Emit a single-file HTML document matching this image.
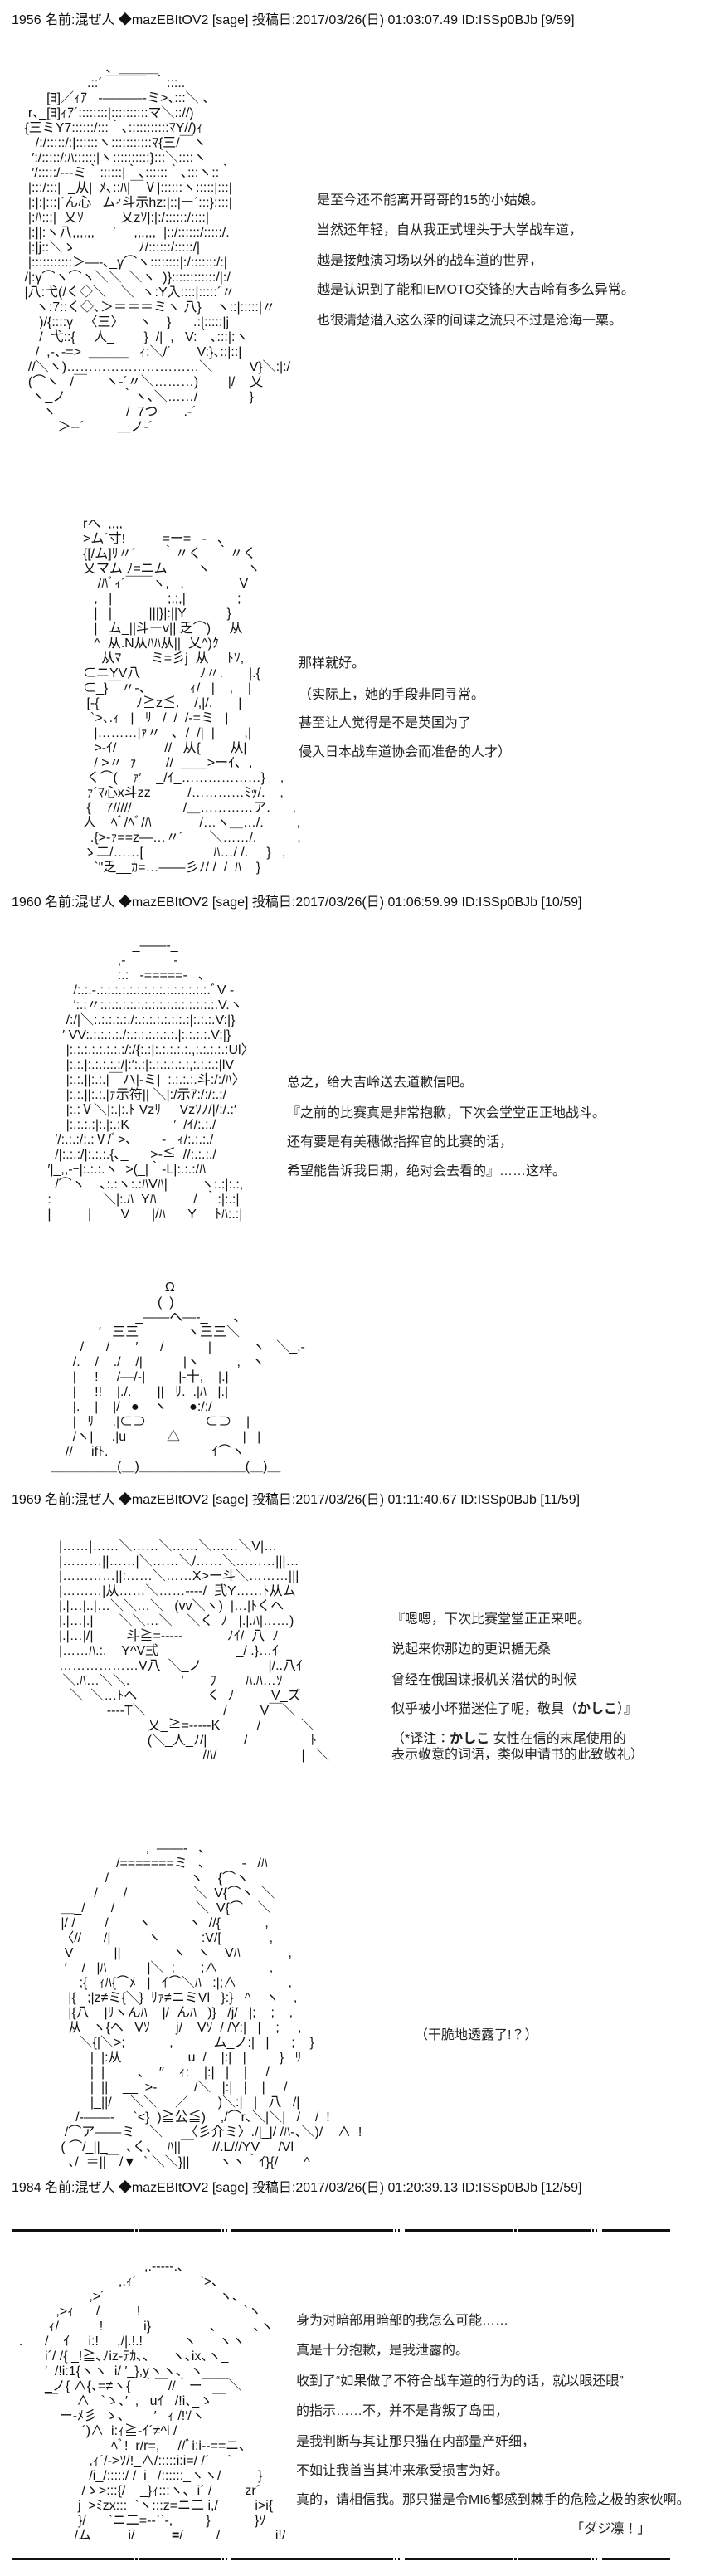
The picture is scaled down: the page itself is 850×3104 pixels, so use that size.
<!DOCTYPE html>
<html><head><meta charset="utf-8">
<style>
html,body{margin:0;padding:0;background:#fff;}
body{width:850px;height:3104px;position:relative;overflow:hidden;font-family:"Liberation Sans","Noto Sans CJK JP",sans-serif;color:#111;}
.h{position:absolute;left:14px;font-size:16px;line-height:18px;white-space:pre;}
.t{position:absolute;font-size:16px;line-height:18px;white-space:pre;color:#222;}
.aa{position:absolute;font-size:16px;line-height:18px;white-space:pre;color:#111;}
.rule{position:absolute;left:14px;width:794px;height:3px;background:#111;}
.gap{position:absolute;top:0;height:3px;background:#fff;}
b{font-weight:bold;}
</style></head><body>

<div class="h" style="top:16px">1956 名前:混ぜ人 ◆mazEBItOV2 [sage] 投稿日:2017/03/26(日) 01:03:07.49 ID:ISSp0BJb [9/59]</div>

<div class="aa" style="left:25px;top:74px">                       、＿＿＿
                  .::´ ￣￣￣  ｀:::..
       [ﾖ]／ｨｱ   -―――-ミ>､:::＼ ､
  r､_[ﾖ]ｨｱ´::::::::|::::::::::マ＼:://)
 {三ミY7::::::/:::｀､:::::::::::ﾏY//)ｨ
    /:/:::::/:|::::::ヽ:::::::::::ﾏ{三/￣ヽ
   ′:/:::::/:ﾊ::::::|ヽ::::::::::}:::＼::::ヽ
   ′/:::::/---ミ｀::::::|｀､::::::｀､:::ヽ::｀
  |:::/:::|  _从|  ﾒ､::ﾊ|￣Ⅴ|::::::ヽ:::::|:::|
  |:|:|:::|´ん心   ムｨ斗示hz:|::|ー´:::}::::|
  |:ﾊ:::|  乂ｿ          乂zｿ|:|:/::::::/::::|
  |:||:ヽ八,,,,,,     ′     ,,,,,,  |::/::::::/:::::/.
  |:|j::＼ゝ                 ﾉ/::::::/:::::/|
  |:::::::::::＞―-､_γ⌒ヽ::::::::|:/:::::::/:|
 /|:γ⌒ヽ⌒ヽ＼＼  ＼ヽ  )}::::::::::::/|:/
 |八:弋(/く◇＼    ＼  ヽ:Y入::::|:::::´〃
    ヽ:7::く◇､＞＝＝＝ミヽ 八}    ヽ::|:::::|〃
     )/{::::γ   〈三〉    ヽ    }      .:|:::::|j
     /  弋::{     人_        }  /|  ,   V:｀､:::|:ヽ
    /  ,-､-=>  ＿＿＿   ｨ:＼/´       V:}､::|::|
  //＼ヽ)…………………………＼          V}＼:|:/
  (⌒ヽ   /￣     ヽ-´〃＼………)        |/    乂
   ヽ_ノ               ｀ヽ､＼……/              }
      ヽ                   /  7つ       .-´
          ＞--´         ＿ノ-´</div>

<div class="t" style="left:382px;top:233px">是至今还不能离开哥哥的15的小姑娘。</div>
<div class="t" style="left:382px;top:269px">当然还年轻，自从我正式埋头于大学战车道，</div>
<div class="t" style="left:382px;top:306px">越是接触演习场以外的战车道的世界，</div>
<div class="t" style="left:382px;top:341px">越是认识到了能和IEMOTO交锋的大吉岭有多么异常。</div>
<div class="t" style="left:382px;top:378px">也很清楚潜入这么深的间谍之流只不过是沧海一粟。</div>

<div class="aa" style="left:100px;top:623px">rへ  ,,,,
>ム´寸!          =ー=   -   ､
{[/ム]ﾘ〃´       ｀〃く    ｀〃く
乂マム ﾉ=ニム        ヽ          ヽ
    /ﾊﾞｨ´￣￣ヽ,   ,               V
   ,   |               ;,;,|              ;
   |   |          |||}|:||Y           }
   |   ム_||斗ーv|| 乏⌒)     从
   ^  从.N从ﾊﾊ从||  乂^)ｸ
     从ﾏ        ミ=彡j  从     ﾄｿ,
⊂ニYV八                ﾉ〃.       |.{
⊂_}￣〃-､            ｨ/   |    ,    |
 [-{          ﾉ≧z≦.    /,|/.       |
  `>､.ｨ   |   ﾘ   /  /  /-=ミ   |
   |………|ｧ〃   ､  /  /|  |        ,|
   >-ｲ/_           //   从{        从|
   / >〃  ｧ        //  ＿＿>ーｲ､  ,
 く⌒(    ｧ′    _/ｲ_………………}    ,
 ｧ´ﾏ心x斗zz          /…………ﾐｯ/.    ,
 {    7/////              /＿…………ア.      ,
人    ﾍﾞ/ﾍﾞ/ﾊ             /…ヽ＿…/.         ,
  .{>-ｧ==z―…〃´       ＼……/.           ,
ゝ二/……[                   ﾊ…/ /.     }   ,
   `"乏__ｶ=…――彡ﾉ/ /  /  ﾊ    }</div>

<div class="t" style="left:360px;top:791px">那样就好。</div>
<div class="t" style="left:360px;top:829px">（实际上，她的手段非同寻常。</div>
<div class="t" style="left:360px;top:863px">甚至让人觉得是不是英国为了</div>
<div class="t" style="left:360px;top:898px">侵入日本战车道协会而准备的人才）</div>

<div class="h" style="top:1079px">1960 名前:混ぜ人 ◆mazEBItOV2 [sage] 投稿日:2017/03/26(日) 01:06:59.99 ID:ISSp0BJb [10/59]</div>

<div class="aa" style="left:44px;top:1131px">                          _――-_
                      ,-             -
                      :.:   -=====-   ､
          /:.:.-.:.:.:.:.:.:.:.:.:.:.:.:.:.:.:.ﾞV -
          ′:.:〃:.:.:.:.:.:.:.:.:.:.:.:.:.:.:.:.V.ヽ
        /:/|＼:.:.:.:.:./:.:.:.:.:.:.:.:|:.:.:.V:|}
       ′ VV:.:.:.:.:./:.:.:.:.:.:.:.|:.:.:.:.V:|}
        |:.:.:.:.:.:.:.:/:/{:.:|:.:.:.:.:.,:.:.:.:.:Ul〉
        |:.:.|:.:.:.:.:/|:′:.:|:.:.:.:.:.:,:.:.:.:|lV
        |:.:.||:.:.|￣ハ|-ミ|_:.:.:.:.斗:/:/ﾊ〉
        |:.:.||:.:.|ｧ示符|| ＼|:/示ｱ:/:/:.:/
        |:.:Ⅴ＼|:.|:.ﾄ Vzﾘ     Vzｿﾉ/|/:/.:′
        |:.:.:.:|:.|:.:K            ′  /ｲ/:.:./
     ′/:.:.:/:.:Ⅴ/ﾞ>､        -   ｨ/:.:.:./
     /|:.:.:/|:.:.:.{､_      >-≦  //:.:.:./
   ′|_,,-ｰ|:.:.:.ヽ  >(_|｀-L|:.:.:/ﾊ
     /⌒ヽ    ､:.:ヽ:.:ﾊVﾊ|         ヽ:.:|:.:,
   :              ＼|:.ﾊ  Yﾊ          /  ｀:|:.:|
   |          |        V      |/ﾊ      Y     ﾄﾊ:.:|</div>

<div class="t" style="left:346px;top:1296px">总之，给大吉岭送去道歉信吧。</div>
<div class="t" style="left:346px;top:1333px">『之前的比赛真是非常抱歉，下次会堂堂正正地战斗。</div>
<div class="t" style="left:346px;top:1368px">还有要是有美穗做指挥官的比赛的话，</div>
<div class="t" style="left:346px;top:1403px">希望能告诉我日期，绝对会去看的』……这样。</div>

<div class="aa" style="left:30px;top:1543px">                                      Ω
                                    (  )
                              _――へ―-_       ､
                    ′   三三             ヽ三三＼
               /      /       ′      /            |           ヽ   ＼_,-
             /.    /    ./    /|           |ヽ          ,   ヽ
             |     !     /―/-|         |-十,    |.|
             |     !!    |./.       ||   ﾘ.  .|ﾊ   |.|
             |.    |    |/   ●    ヽ      ●:/;/
             |   ﾘ     .|⊂⊃                ⊂⊃    |
             /ヽ|     .|u           △                 |   |
           //     ifﾄ.                            ｲ⌒ヽ
       ＿＿＿＿＿(＿)＿＿＿＿＿＿＿＿(＿)＿</div>

<div class="h" style="top:1799px">1969 名前:混ぜ人 ◆mazEBItOV2 [sage] 投稿日:2017/03/26(日) 01:11:40.67 ID:ISSp0BJb [11/59]</div>

<div class="aa" style="left:71px;top:1855px">|……|……＼……＼……＼……＼V|…
|………||……|＼……＼/……＼………|||…
|…………||:……＼……X>ー斗＼………|||
|………|从……＼……----/  弐Y……ﾄ从ム
|.|…|..|…＼＼…＼   (vv＼ヽ)  |…|ﾄくヘ
|.|…|.|__   ＼＼…＼    ＼く_ﾉ   |.|.ﾊ|……)
|.|…|/|         斗≧=-----            ﾉｲ/  八_ﾉ
|……ﾊ.:.    Y^V弍                     _/ .}…ｲ
………………V八  ＼_ノ                  |/..八ｲ
 ＼.ﾊ…＼＼.              ′       ﾌ        ﾊ.ﾊ…ｿ
   ＼  ＼…ﾄへ                   く  ﾉ          V_ズ
             ----T＼                     /         V￣＼
                        乂_≧=-----K          /           ＼
                        (＼_人_ﾉ/|          /                 ﾄ
                                       /ﾊ/                       |   ＼</div>

<div class="t" style="left:472px;top:1943px">『嗯嗯，下次比赛堂堂正正来吧。</div>
<div class="t" style="left:472px;top:1979px">说起来你那边的更识楯无桑</div>
<div class="t" style="left:472px;top:2016px">曾经在俄国谍报机关潜伏的时候</div>
<div class="t" style="left:472px;top:2051px">似乎被小坏猫迷住了呢，敬具（<b>かしこ</b>）』</div>
<div class="t" style="left:472px;top:2087px">（*译注：<b>かしこ</b> 女性在信的末尾使用的</div>
<div class="t" style="left:472px;top:2106px">表示敬意的词语，类似申请书的此致敬礼）</div>

<div class="aa" style="left:60px;top:2219px">                          ,  ――-   ､
                  /=======ミ   ､          -   /ﾊ
               /                      ヽ    {⌒ヽ
            /       /                  ＼  V{⌒ヽ  ＼
   ＿_/       /                      ＼  V{⌒    ＼
   |/ /        /        ヽ          ヽ  //{            ,
   〈//      /|          ヽ           :V/[             ,
    V           ||              ヽ   ヽ    Vﾊ             ,
    ′    /   |ﾊ           |＼  ;       ;∧              ,
        ;{   ｨﾊ{⌒ﾒ   |   ｲ⌒＼ﾊ   :|;∧              ,
     |{   ;|z≠ミ{＼}  ﾘｧ≠ニミVl   }:}   ^    ヽ    ,
     |{八    |ﾘヽんﾊ    |/  んﾊ   )}   /j/   |;    ;    ,
     从   ヽ{ヘ   Vｿ       j/    Vｿ  / /Y:|   |    ;     ,
        ＼{|＼>;            ,           ム_ノ:|   |      ;    }
           |  |:从                  u  /    |:|   |         }   ﾘ
           |  |         ､    ′′    ｨ:    |:|   |    |     /
           |  ||    __  >-          /＼   |:|   |    |     /
           |_||/     ＼＼     ／        )＼:|   |   八   /|
       /-――-     `<}  )≧公≦)    ,/⌒r､＼|＼|   /    /  !
    /⌒ア――ミ    ＼      〈彡介ミ〉./|_|/ /ﾊ-､＼)/    ∧  !
   ( ⌒/_||_     ､く､    ﾊ||￣     //.L///YV     /Vl
     ､/  ＝||￣/▼  ` ＼＼}||        ヽヽ｀ｲ}{/       ^</div>

<div class="t" style="left:500px;top:2444px">（干脆地透露了!？）</div>

<div class="h" style="top:2628px">1984 名前:混ぜ人 ◆mazEBItOV2 [sage] 投稿日:2017/03/26(日) 01:20:39.13 ID:ISSp0BJb [12/59]</div>

<div class="rule" style="top:2686px"><div class="gap" style="left:147px;width:2px"></div><div class="gap" style="left:152px;width:2px"></div><div class="gap" style="left:252px;width:12px;background:linear-gradient(90deg,#fff 0 2px,#111 2px 4px,#fff 4px 6px,#111 6px 8px,#fff 8px)"></div><div class="gap" style="left:460px;width:14px;background:linear-gradient(90deg,#fff 0 2px,#111 2px 4px,#fff 4px 6px,#111 6px 8px,#fff 8px)"></div><div class="gap" style="left:604px;width:2px"></div><div class="gap" style="left:609px;width:2px"></div><div class="gap" style="left:698px;width:14px;background:linear-gradient(90deg,#fff 0 2px,#111 2px 4px,#fff 4px 6px,#111 6px 8px,#fff 8px)"></div></div>

<div class="aa" style="left:14px;top:2723px">                                    ,.-----.､
                             ,.ｨ´                 `>､
                     ,>´                               ヽ､
            ,>ｨ      /          !                            `ヽ
          ｨ/           !           i}                ､          ､ヽ
  .      /    ｲ     i:!     ,/|.!.!           ヽ      ヽヽ
         i´/ /{ _!≧､ﾉiz-ﾃｶ､､      ヽ､ix､ヽ_
         ′  /!i:1{ヽヽ  i/ ′_},yヽヽ､  ヽ
         _ノ{ ∧{､=≠ヽ{   ｀￣//｀ー￣￣＼
         ￣     ∧   `ゝ､′  ,   uｲ   /!i､_ゝ￣
             ー-ﾒ彡_ゝ､        ′   ｨ /!′/ヽ
                   ´)∧  i:ｨ≧-ｲ´≠^i /
                         _ﾍﾞ!_r/r=,     //ﾞi:i--==ニ､
                     ,ｨ´/->ｿ/!_∧/:::::i:i=/ /´     `
                     /i_/:::::/ /  i   /::::::_ヽヽ/          }
                   /ゝ>:::{/    _}ｨ:::ヽ､  i´ /         zr´
                  j  >ﾐzx:::  `ヽ:::z=ニ二 i,/          i>i{
                  }/      `ニ二=--``-,         }            }ｿ
                 /ム          i/          <b>=</b>/         /               i!/</div>

<div class="t" style="left:357px;top:2788px">身为对暗部用暗部的我怎么可能……</div>
<div class="t" style="left:357px;top:2824px">真是十分抱歉，是我泄露的。</div>
<div class="t" style="left:357px;top:2861px">收到了“如果做了不符合战车道的行为的话，就以眼还眼”</div>
<div class="t" style="left:357px;top:2897px">的指示……不，并不是背叛了岛田，</div>
<div class="t" style="left:357px;top:2934px">是我判断与其让那只猫在内部量产奸细，</div>
<div class="t" style="left:357px;top:2969px">不如让我首当其冲来承受损害为好。</div>
<div class="t" style="left:357px;top:3004px">真的，请相信我。那只猫是令MI6都感到棘手的危险之极的家伙啊。</div>
<div class="t" style="left:688px;top:3039px">「ダジ凛！」</div>

<div class="rule" style="top:3082px"><div class="gap" style="left:147px;width:2px"></div><div class="gap" style="left:152px;width:2px"></div><div class="gap" style="left:252px;width:12px;background:linear-gradient(90deg,#fff 0 2px,#111 2px 4px,#fff 4px 6px,#111 6px 8px,#fff 8px)"></div><div class="gap" style="left:460px;width:14px;background:linear-gradient(90deg,#fff 0 2px,#111 2px 4px,#fff 4px 6px,#111 6px 8px,#fff 8px)"></div><div class="gap" style="left:604px;width:2px"></div><div class="gap" style="left:609px;width:2px"></div><div class="gap" style="left:698px;width:14px;background:linear-gradient(90deg,#fff 0 2px,#111 2px 4px,#fff 4px 6px,#111 6px 8px,#fff 8px)"></div></div>

</body></html>
